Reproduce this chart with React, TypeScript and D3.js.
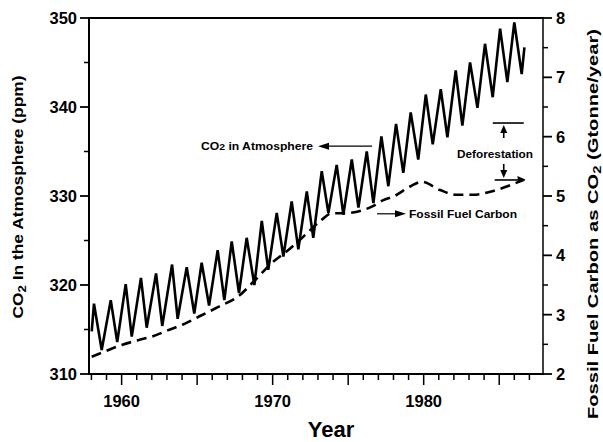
import React from "react";
import * as d3 from "d3";

// CO2 (ppm) – seasonal peaks and troughs
const co2Years = [
  1958.02, 1958.17, 1958.68, 1959.28, 1959.71, 1960.27, 1960.67, 1961.28, 1961.66,
  1962.28, 1962.69, 1963.34, 1963.71, 1964.31, 1964.81, 1965.3, 1965.79, 1966.36,
  1966.8, 1967.29, 1967.77, 1968.28, 1968.79, 1969.28, 1969.71, 1970.27, 1970.71,
  1971.26, 1971.7, 1972.26, 1972.69, 1973.25, 1973.69, 1974.24, 1974.68, 1975.24,
  1975.68, 1976.23, 1976.67, 1977.2, 1977.66, 1978.17, 1978.65, 1979.14, 1979.64,
  1980.14, 1980.6, 1981.13, 1981.57, 1982.12, 1982.56, 1983.07, 1983.56, 1984.06,
  1984.57, 1985.06, 1985.54, 1986.0, 1986.49, 1986.67,
];
const co2Values = [
  314.8, 317.9, 312.7, 318.3, 313.6, 320.1, 314.2, 320.8, 315.2,
  321.3, 315.4, 322.3, 316.2, 322.0, 316.8, 322.5, 317.7, 323.9,
  318.3, 324.9, 319.1, 325.3, 320.0, 327.2, 321.7, 328.1, 323.2,
  329.4, 324.0, 330.5, 325.3, 332.8, 328.1, 333.5, 327.9, 334.1,
  328.7, 335.0, 329.2, 336.7, 331.1, 338.1, 332.6, 339.4, 334.1,
  341.4, 335.8, 342.0, 336.6, 344.1, 337.9, 345.0, 339.9, 347.1,
  341.1, 348.8, 342.8, 349.5, 343.7, 346.7,
];

// Fossil fuel carbon (Gtonne/year)
const fossilYears = [
  1958.02, 1958.9, 1960.01, 1961.1, 1961.99, 1963.09, 1964.2, 1965.3, 1966.4,
  1967.73, 1968.83, 1969.94, 1971.04, 1972.14, 1973.25, 1973.91, 1974.79, 1975.67,
  1976.56, 1977.33, 1977.99, 1979.1, 1979.87, 1981.09, 1982.19, 1983.29, 1984.4,
  1985.5, 1986.6,
];
const fossilValues = [
  2.29, 2.38, 2.49, 2.57, 2.63, 2.74, 2.85, 2.99, 3.13,
  3.31, 3.58, 3.87, 4.09, 4.34, 4.6, 4.71, 4.71, 4.74,
  4.82, 4.93, 4.99, 5.16, 5.24, 5.1, 5.02, 5.02, 5.07,
  5.16, 5.27,
];

const leftTicks = [310, 320, 330, 340, 350];
const leftMinor = [315, 325, 335, 345];
const rightTicks = [2, 3, 4, 5, 6, 7, 8];
const rightMinor = [2.5, 3.5, 4.5, 5.5, 6.5, 7.5];
const yearLabels = [1960, 1970, 1980];

const deforestTop = 6.23;
const deforestBottom = 5.27;
const deforestYear = 1985.3;

export default function App() {
  const x0 = 89, x1 = 543, yTop = 18, yBot = 374;
  const x = d3.scaleLinear().domain([1957.84, 1987.9]).range([x0, x1]);
  const yL = d3.scaleLinear().domain([310, 350]).range([yBot, yTop]);
  const yR = d3.scaleLinear().domain([2, 8]).range([yBot, yTop]);

  const co2Line = d3
    .line<number>()
    .x((_, i) => x(co2Years[i]))
    .y((d) => yL(d));
  const fossilLine = d3
    .line<number>()
    .x((_, i) => x(fossilYears[i]))
    .y((d) => yR(d))
    .curve(d3.curveMonotoneX);

  const years = d3.range(1958, 1988);
  const font = "'Liberation Sans', Arial, Helvetica, sans-serif";

  const lastI = fossilValues.length - 1;
  const ex = x(fossilYears[lastI]);
  const ey = yR(fossilValues[lastI]);

  const dx = x(deforestYear);
  const dTop = yR(deforestTop);
  const dBot = yR(deforestBottom);

  const co2ArrowY = yL(335.6);
  const ffArrowY = yR(4.7);

  return (
    <div style={{ position: "absolute", left: 0, top: 0 }}>
      <svg width={603} height={442} style={{ display: "block", background: "#fff" }} fontFamily={font}>
        {/* frame */}
        <line x1={x0} x2={x1} y1={yTop} y2={yTop} stroke="#000" strokeWidth={2} />
        <line x1={x0} x2={x0} y1={yTop - 1} y2={yBot + 1} stroke="#000" strokeWidth={2} />
        <line x1={x1} x2={x1} y1={yTop - 1} y2={yBot + 1} stroke="#000" strokeWidth={1.5} />
        <line x1={x0} x2={x1 + 1} y1={yBot} y2={yBot} stroke="#000" strokeWidth={2} />

        {/* x ticks */}
        {years.map((yr) => (
          <line
            key={yr}
            x1={x(yr)}
            x2={x(yr)}
            y1={yBot}
            y2={yBot + (yr % 5 === 0 ? 11 : 6)}
            stroke="#000"
            strokeWidth={1.5}
          />
        ))}
        {yearLabels.map((yr) => (
          <text key={yr} x={x(yr)} y={407} textAnchor="middle" fontSize={16.5} fontWeight="bold">
            {yr}
          </text>
        ))}

        {/* left axis ticks */}
        {leftTicks.map((v) => (
          <g key={v}>
            <line x1={x0 - 9} x2={x0} y1={yL(v)} y2={yL(v)} stroke="#000" strokeWidth={1.8} />
            <text x={77} y={yL(v) + 6} textAnchor="end" fontSize={16.5} fontWeight="bold">
              {v}
            </text>
          </g>
        ))}
        {leftMinor.map((v) => (
          <line key={v} x1={x0 - 5} x2={x0} y1={yL(v)} y2={yL(v)} stroke="#000" strokeWidth={1.5} />
        ))}

        {/* right axis ticks */}
        {rightTicks.map((v) => (
          <g key={v}>
            <line x1={x1} x2={x1 + 9} y1={yR(v)} y2={yR(v)} stroke="#000" strokeWidth={1.8} />
            <text x={556} y={yR(v) + 6} textAnchor="start" fontSize={16.5} fontWeight="bold">
              {v}
            </text>
          </g>
        ))}
        {rightMinor.map((v) => (
          <line key={v} x1={x1} x2={x1 + 5} y1={yR(v)} y2={yR(v)} stroke="#000" strokeWidth={1.5} />
        ))}

        {/* data */}
        <path d={fossilLine(fossilValues) || ""} fill="none" stroke="#000" strokeWidth={2.6} strokeDasharray="10 6" />
        <path d={`M${ex + 2},${ey - 0.5} L${ex - 6},${ey - 4} L${ex - 5},${ey + 3} Z`} fill="#000" />
        <path d={co2Line(co2Values) || ""} fill="none" stroke="#000" strokeWidth={2.6} strokeLinejoin="miter" strokeMiterlimit={4} />

        {/* CO2 annotation */}
        <text x={201} y={co2ArrowY + 4} fontSize={10.5} fontWeight="bold" textLength={112} lengthAdjust="spacingAndGlyphs">
          CO<tspan fontSize={9}>2</tspan> in Atmosphere
        </text>
        <line x1={326} x2={372} y1={co2ArrowY} y2={co2ArrowY} stroke="#000" strokeWidth={1.2} />
        <path d={`M318,${co2ArrowY} L329,${co2ArrowY - 3.5} L329,${co2ArrowY + 3.5} Z`} fill="#000" />

        {/* Fossil fuel annotation */}
        <line x1={377} x2={398} y1={ffArrowY} y2={ffArrowY} stroke="#000" strokeWidth={1.2} />
        <path d={`M406,${ffArrowY} L395,${ffArrowY - 3.5} L395,${ffArrowY + 3.5} Z`} fill="#000" />
        <text x={409} y={ffArrowY + 4} fontSize={10.5} fontWeight="bold" textLength={108} lengthAdjust="spacingAndGlyphs">
          Fossil Fuel Carbon
        </text>

        {/* Deforestation annotation */}
        <line x1={dx - 11} x2={dx + 20} y1={dTop} y2={dTop} stroke="#000" strokeWidth={1.6} />
        <line x1={dx} x2={dx} y1={dTop + 8} y2={dTop + 15} stroke="#000" strokeWidth={1.6} />
        <path d={`M${dx},${dTop + 2} L${dx - 3.5},${dTop + 10} L${dx + 3.5},${dTop + 10} Z`} fill="#000" />
        <text x={457} y={dTop + 35} fontSize={10.5} fontWeight="bold" textLength={76} lengthAdjust="spacingAndGlyphs">
          Deforestation
        </text>
        <line x1={dx} x2={dx} y1={dBot - 16} y2={dBot - 9} stroke="#000" strokeWidth={1.6} />
        <path d={`M${dx},${dBot - 2} L${dx - 3.5},${dBot - 10} L${dx + 3.5},${dBot - 10} Z`} fill="#000" />
        <line x1={dx - 9} x2={dx + 21} y1={dBot} y2={dBot} stroke="#000" strokeWidth={1.6} />

        {/* axis titles */}
        <text
          transform="translate(23,197) rotate(-90)"
          textAnchor="middle"
          fontSize={14.5}
          fontWeight="bold"
          textLength={243}
          lengthAdjust="spacingAndGlyphs"
        >
          CO<tspan fontSize={11} dy={3}>2</tspan><tspan dy={-3}> In the Atmosphere (ppm)</tspan>
        </text>
        <text
          transform="translate(598,224) rotate(-90)"
          textAnchor="middle"
          fontSize={15}
          fontWeight="bold"
          textLength={390}
          lengthAdjust="spacingAndGlyphs"
        >
          Fossil Fuel Carbon as CO<tspan fontSize={11} dy={3}>2</tspan><tspan dy={-3}> (Gtonne/year)</tspan>
        </text>
        <text x={331} y={437} textAnchor="middle" fontSize={22} fontWeight="bold">
          Year
        </text>
      </svg>
    </div>
  );
}
